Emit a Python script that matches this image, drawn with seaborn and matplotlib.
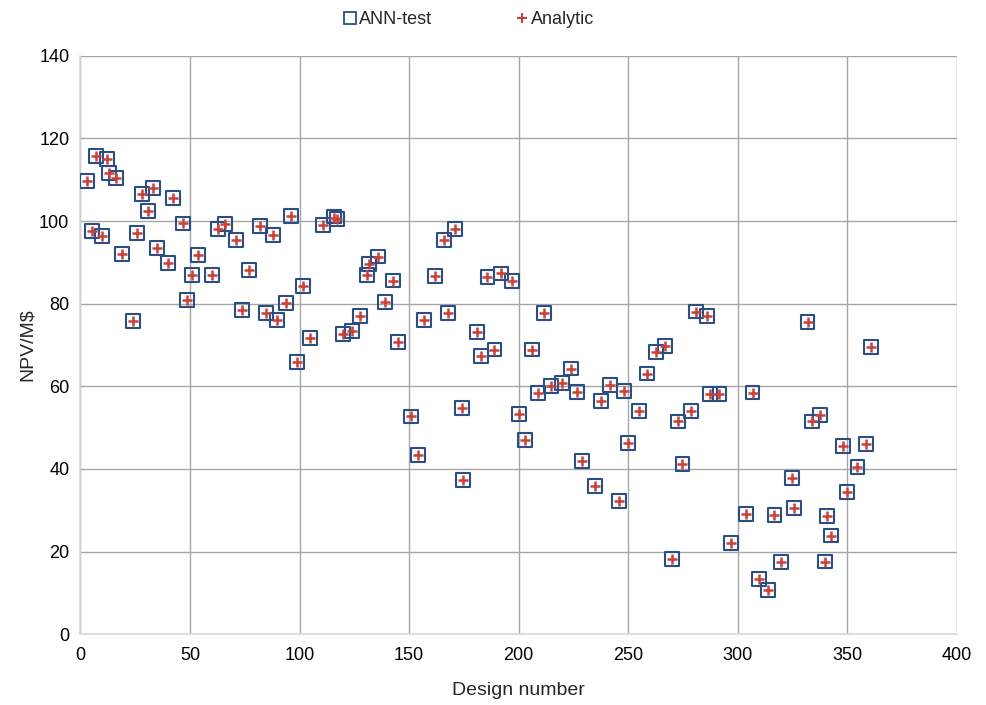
import matplotlib
matplotlib.use("Agg")
import matplotlib.pyplot as plt
import seaborn as sns
import pandas as pd
from matplotlib.lines import Line2D

design = [2.8, 5.1, 7.1, 10.0, 12.0, 13.0, 16.1, 18.8, 23.8, 25.9,
          27.9, 31.0, 33.0, 34.9, 39.8, 42.1, 46.9, 48.8, 50.9, 53.8,
          59.9, 62.8, 66.0, 70.9, 73.9, 76.9, 82.0, 84.8, 87.9, 89.9,
          93.8, 96.0, 98.9, 101.7, 104.8, 110.9, 115.8, 117.0, 120.0, 123.8,
          127.8, 131.0, 131.9, 136.0, 138.9, 142.8, 144.8, 150.9, 154.0, 156.8,
          161.9, 166.0, 171.0, 167.9, 174.1, 174.8, 180.9, 182.9, 185.8, 189.0,
          191.9, 196.9, 200.1, 202.8, 206.0, 208.9, 211.6, 214.8, 220.0, 223.8,
          226.8, 228.9, 234.9, 237.8, 241.9, 245.9, 248.0, 249.9, 254.9, 258.8,
          262.6, 266.9, 270.1, 272.8, 274.8, 278.8, 280.9, 285.9, 287.4, 291.7,
          296.9, 303.9, 306.8, 309.8, 313.9, 316.8, 319.9, 324.7, 325.9, 331.9,
          333.9, 337.7, 339.8, 340.8, 342.8, 347.9, 349.9, 354.7, 358.7, 360.8]

ann_test = [109.6, 97.5, 115.8, 96.4, 115.0, 111.6, 110.3, 92.0, 75.7, 97.1,
            106.5, 102.5, 108.0, 93.5, 89.8, 105.6, 99.4, 80.9, 86.9, 91.8,
            87.0, 98.1, 99.3, 95.4, 78.5, 88.1, 98.7, 77.8, 96.6, 76.0,
            80.2, 101.3, 65.9, 84.2, 71.6, 99.1, 101.1, 100.5, 72.7, 73.4,
            77.1, 87.0, 89.7, 91.4, 80.4, 85.6, 70.8, 52.7, 43.4, 76.1,
            86.6, 95.5, 98.1, 77.8, 54.7, 37.4, 73.1, 67.3, 86.4, 68.9,
            87.3, 85.4, 53.3, 47.1, 68.9, 58.4, 77.8, 60.1, 60.8, 64.3,
            58.7, 42.0, 35.8, 56.4, 60.4, 32.2, 58.8, 46.3, 54.1, 63.1,
            68.2, 69.7, 18.3, 51.5, 41.3, 54.0, 78.1, 77.1, 58.2, 58.2,
            22.1, 29.0, 58.5, 13.4, 10.8, 28.8, 17.4, 37.8, 30.5, 75.6,
            51.5, 53.0, 17.6, 28.6, 23.9, 45.5, 34.5, 40.5, 46.1, 69.6]

analytic = [109.6, 97.5, 115.8, 96.4, 115.0, 111.6, 110.3, 92.0, 75.7, 97.1,
            106.5, 102.5, 108.0, 93.5, 89.8, 105.6, 99.4, 80.9, 86.9, 91.8,
            87.0, 98.1, 99.3, 95.4, 78.5, 88.1, 98.7, 77.8, 96.6, 76.0,
            80.2, 101.3, 65.9, 84.2, 71.6, 99.1, 100.8, 100.5, 72.7, 73.4,
            77.1, 87.0, 89.7, 91.4, 80.4, 85.6, 70.8, 52.7, 43.4, 76.1,
            86.6, 95.5, 98.1, 77.8, 54.7, 37.4, 73.1, 67.3, 86.4, 68.9,
            87.3, 85.4, 53.3, 47.1, 68.9, 58.4, 77.8, 60.1, 60.8, 64.3,
            58.7, 42.0, 35.8, 56.4, 60.4, 32.2, 58.8, 46.3, 54.1, 63.1,
            68.2, 69.7, 18.3, 51.5, 41.3, 54.0, 78.1, 77.1, 58.2, 58.2,
            22.1, 29.0, 58.5, 13.4, 10.8, 28.8, 17.4, 37.8, 30.5, 75.6,
            51.5, 53.0, 17.6, 28.6, 23.9, 45.5, 34.5, 40.5, 46.1, 69.6]

x_ticks = [0, 50, 100, 150, 200, 250, 300, 350, 400]
y_ticks = [0, 20, 40, 60, 80, 100, 120, 140]

BLUE = "#2B4F85"
RED = "#C8413C"

sns.set_theme(style="white")
plt.rcParams['font.family'] = ['Liberation Sans', 'DejaVu Sans']

df = pd.DataFrame({"design": design, "ann": ann_test, "analytic": analytic})

fig = plt.figure(figsize=(9.86, 7.05), dpi=100)
ax = fig.add_axes([0.0816, 0.1003, 0.9703 - 0.0816, 0.921 - 0.1003])

sns.scatterplot(data=df, x="design", y="ann", ax=ax, marker="s", s=100,
                facecolor="none", edgecolor=BLUE, linewidth=1.5, zorder=3)
sns.scatterplot(data=df, x="design", y="analytic", ax=ax, marker="+", s=60,
                color=RED, linewidth=1.8, zorder=4)

ax.set_xlim(0, 400)
ax.set_ylim(0, 140)
ax.set_xticks(x_ticks)
ax.set_yticks(y_ticks)
ax.grid(True, color="#a6a6a6", linewidth=1.0, zorder=0)
ax.set_axisbelow(True)
for side in ["top", "right"]:
    ax.spines[side].set_visible(False)
for side in ["left", "bottom"]:
    ax.spines[side].set_color("#d9d9d9")
    ax.spines[side].set_linewidth(1.2)
ax.tick_params(axis="both", length=0, labelsize=13, colors="black")
ax.tick_params(axis="x", pad=9)
ax.tick_params(axis="y", pad=8)
ax.set_xlabel("Design number", fontsize=14, labelpad=13)
ax.set_ylabel("NPV/M$", fontsize=14, labelpad=2)

handles = [
    Line2D([], [], marker="s", linestyle="none", markerfacecolor="none",
           markeredgecolor=BLUE, markersize=8, markeredgewidth=1.3),
    Line2D([], [], marker="+", linestyle="none", color=RED,
           markersize=7, markeredgewidth=1.5),
]
fig.legend(handles, ["ANN-test", "Analytic"], loc="center",
           bbox_to_anchor=(0.474, 0.972), ncol=2, frameon=False,
           fontsize=13, handletextpad=0.0, columnspacing=4.5,
           handlelength=1.0)

fig.savefig("out.png", dpi=100)
